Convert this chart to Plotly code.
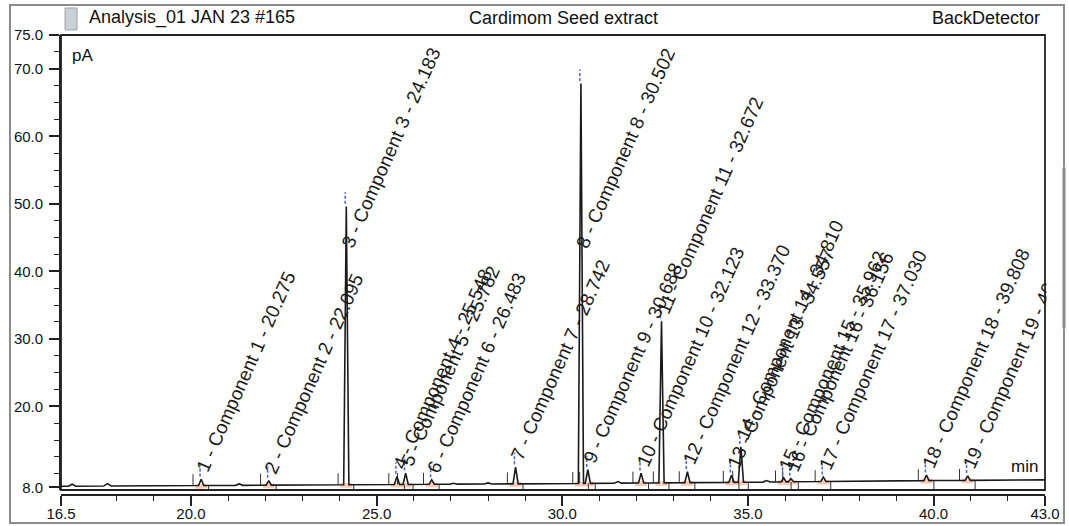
import numpy as np
import plotly.graph_objects as go

# ---------------- data ----------------
peak_num = list(range(1, 20))
peak_rt = [20.275, 22.095, 24.183, 25.548, 25.782, 26.483, 28.742, 30.502, 30.688,
           32.123, 32.672, 33.370, 34.557, 34.810, 35.962, 36.156, 37.030, 39.808, 40.918]
peak_apex = [9.2, 9.0, 49.6, 9.6, 10.1, 9.1, 11.0, 67.8, 10.6,
             10.1, 32.6, 10.3, 9.8, 14.0, 9.4, 9.3, 9.5, 9.8, 9.7]

# small unlabelled bumps
bump_rt = [16.8, 17.75, 21.3, 21.8, 27.07, 28.0, 31.5, 35.5]
bump_apex = [8.45, 8.55, 8.5, 8.4, 8.6, 8.65, 8.85, 9.0]

# drifting baseline
base_t = [16.5, 20.0, 25.0, 30.0, 35.0, 40.0, 43.0]
base_v = [8.15, 8.25, 8.4, 8.55, 8.75, 9.0, 9.1]

y_ticks = [8.0, 20.0, 30.0, 40.0, 50.0, 60.0, 70.0, 75.0]
x_ticks = [16.5, 20.0, 25.0, 30.0, 35.0, 40.0, 43.0]

title_left = "Analysis_01 JAN 23 #165"
title_mid = "Cardimom Seed extract"
title_right = "BackDetector"

FONT = "Liberation Sans, Arial, sans-serif"

# ---------------- build the trace ----------------
def base_at(t):
    return float(np.interp(t, base_t, base_v))

pts = [(t, v) for t, v in zip(base_t, base_v)]
for rt, h in zip(peak_rt, peak_apex):
    hw = 0.07
    pts += [(rt - hw, base_at(rt - hw)), (rt, h), (rt + hw, base_at(rt + hw))]
for rt, h in zip(bump_rt, bump_apex):
    hw = 0.1
    pts += [(rt - hw, base_at(rt - hw)), (rt, h), (rt + hw, base_at(rt + hw))]
pts.sort()
sig_x = [p[0] for p in pts]
sig_y = [p[1] for p in pts]

fig = go.Figure()

# integrated-area tint at the foot of each peak
fx, fy = [], []
for rt in peak_rt:
    b0, b1 = base_at(rt - 0.16), base_at(rt + 0.16)
    fx += [rt - 0.16, rt + 0.16, rt + 0.16, rt - 0.16, rt - 0.16, None]
    fy += [b0 + 0.25, b1 + 0.25, b1 - 0.45, b0 - 0.45, b0 + 0.25, None]
fig.add_trace(go.Scatter(x=fx, y=fy, mode="lines", fill="toself",
                         fillcolor="rgba(244,160,120,0.55)", line=dict(width=0),
                         hoverinfo="skip", showlegend=False))

# peak start ticks (black) and end ticks
sx, sy = [], []
for rt in peak_rt:
    b = base_at(rt - 0.22)
    sx += [rt - 0.22, rt - 0.22, None]
    sy += [b, b + 1.7, None]
    e = base_at(rt + 0.2)
    sx += [rt + 0.2, rt + 0.2, None]
    sy += [e, 7.6, None]
fig.add_trace(go.Scatter(x=sx, y=sy, mode="lines", line=dict(color="#333", width=1),
                         hoverinfo="skip", showlegend=False))

fig.add_trace(go.Scatter(x=sig_x, y=sig_y, mode="lines",
                         line=dict(color="#1a1a1a", width=1.6), showlegend=False))

# blue dashed peak marks
bx, by = [], []
for rt, h in zip(peak_rt, peak_apex):
    bx += [rt - 0.03, rt - 0.03, None]
    by += [h + 0.4, h + 2.1, None]
fig.add_trace(go.Scatter(x=bx, y=by, mode="lines",
                         line=dict(color="#4a64c4", width=1.5, dash="3px,2px"),
                         hoverinfo="skip", showlegend=False))

annotations = []
# outer frame of the printout (an empty bordered box)
annotations.append(dict(x=0.4837, y=0.5022, xref="paper", yref="paper", text=" ",
                        showarrow=False, xanchor="center", yanchor="middle",
                        width=1052, height=516, borderpad=0, borderwidth=2,
                        bordercolor="#8c8c8c", bgcolor="rgba(0,0,0,0)"))

# peak labels
for n, rt, h in zip(peak_num, peak_rt, peak_apex):
    annotations.append(dict(
        x=rt, y=min(h + 0.4, 42.8), xref="x", yref="y",
        text=f"{n} - Component {n} - {rt:.3f}",
        showarrow=False, textangle=-66, xanchor="left", yanchor="bottom",
        xshift=-10, borderpad=0,
        font=dict(family=FONT, size=19, color="#1a1a1a")))

# cover the part of label 19 that runs past the plot frame (as in the source print)
annotations.append(dict(x=1.0015, y=0.36, xref="paper", yref="paper", text=" ",
                        showarrow=False, xanchor="left", yanchor="bottom",
                        width=30, height=160, bgcolor="white", borderpad=0))
annotations.append(dict(x=1.0193, y=0.36, xref="paper", yref="paper", text=" ",
                        showarrow=False, xanchor="center", yanchor="bottom",
                        width=2, height=160, bgcolor="#8c8c8c", borderpad=0))

# title bar and unit texts
annotations += [
    dict(x=0.0264, y=1.037, xref="paper", yref="paper", text=title_left, showarrow=False,
         xanchor="left", yanchor="middle", font=dict(family=FONT, size=18, color="#111")),
    dict(x=0.5102, y=1.037, xref="paper", yref="paper", text=title_mid, showarrow=False,
         xanchor="center", yanchor="middle", font=dict(family=FONT, size=18, color="#111")),
    dict(x=0.997, y=1.037, xref="paper", yref="paper", text=title_right, showarrow=False,
         xanchor="right", yanchor="middle", font=dict(family=FONT, size=18, color="#111")),
    dict(x=0.009, y=0.9565, xref="paper", yref="paper", text="pA", showarrow=False,
         xanchor="left", yanchor="middle", font=dict(family=FONT, size=17, color="#111")),
    dict(x=0.995, y=0.0609, xref="paper", yref="paper", text="min", showarrow=False,
         xanchor="right", yanchor="middle", font=dict(family=FONT, size=17, color="#111")),
]

shapes = [
    # plot frame
    dict(type="rect", xref="paper", yref="paper", x0=0, x1=1, y0=0.01087, y1=1,
         line=dict(color="#222", width=1.8), layer="above"),
    # title icon
    dict(type="rect", xref="paper", yref="paper", x0=0.0041, x1=0.0163, y0=1.011, y1=1.0587,
         line=dict(color="#9aa4ae", width=1), fillcolor="#c9d0d6"),
]

minor_y = [v for v in np.arange(10.0, 75.0, 2.5).tolist() if v not in y_ticks]
minor_x = [v for v in range(18, 43) if v not in x_ticks]

fig.update_layout(
    width=1069, height=526,
    margin=dict(l=61, r=24, t=35, b=31, autoexpand=False),
    paper_bgcolor="white", plot_bgcolor="white",
    showlegend=False,
    annotations=annotations, shapes=shapes,
    xaxis=dict(range=[16.5, 43.0], anchor="free", position=0, automargin=False,
               tickvals=x_ticks, ticktext=[f"{v:.1f}" for v in x_ticks],
               ticks="outside", ticklen=10, tickwidth=1.5, tickcolor="#222",
               ticklabelstandoff=-5,
               showline=True, linecolor="#222", linewidth=1.8,
               showgrid=False, zeroline=False,
               minor=dict(tickvals=minor_x, ticks="outside", ticklen=5, tickwidth=1.3,
                          tickcolor="#222", showgrid=False),
               tickfont=dict(family=FONT, size=15, color="#111")),
    yaxis=dict(range=[7.6, 75.0], domain=[0.01087, 1], automargin=False,
               tickvals=y_ticks, ticktext=[f"{v:.1f}" for v in y_ticks],
               ticks="outside", ticklen=10, tickwidth=1.5, tickcolor="#222",
               ticklabelstandoff=3,
               showline=True, linecolor="#222", linewidth=1.8,
               showgrid=False, zeroline=False,
               minor=dict(tickvals=minor_y, ticks="outside", ticklen=5, tickwidth=1.3,
                          tickcolor="#222", showgrid=False),
               tickfont=dict(family=FONT, size=15, color="#111")),
)

fig.write_html("out.html")
